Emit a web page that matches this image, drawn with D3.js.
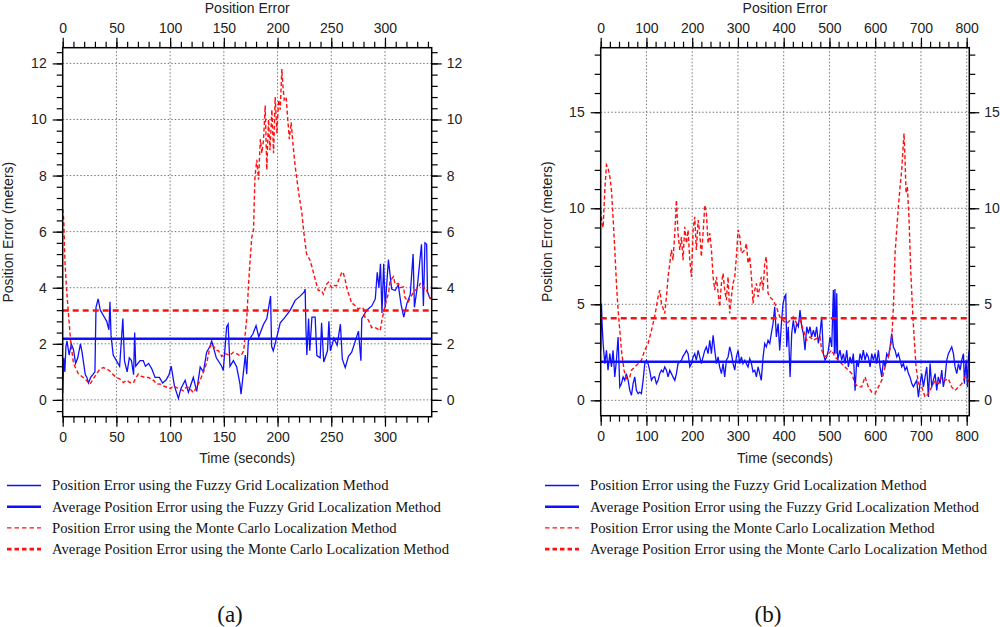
<!DOCTYPE html>
<html>
<head>
<meta charset="utf-8">
<script src="https://cdn.jsdelivr.net/npm/d3@7"></script>
<style>
  body { margin: 0; background: white; }
  svg { display: block; }
</style>
</head>
<body>
<div id="chart"></div>
<script>
// ---- panel (a) ----
const fgTimeA = [0,1,2,3,4,6,8,10,12,14,16.5,18,21,22.5,24,26,28,30,31,33,35,38,41,43,44,45,47,50,53,56,57.5,60,62,64,66,67,68,72,75,77,80,83,86,90,93,96,99,101,104,107.7,110,114,117,121.6,124.7,128,131,134,137,138.7,143,148,149.5,152.6,154,155.7,158.9,162,165,166,168,170,171.3,172.8,177,180,182.5,187,190,193.5,194.5,196,199.4,202.5,207,211.8,216.4,221,224.8,225.7,226.4,227.3,228.9,230,232,235,236.6,239.7,241,243,246.5,247.8,249.2,252.5,255.5,258.5,260.3,263,266,269,272,275.3,277.6,278.4,283,287.7,291,292.8,294.4,295.8,297.2,298.8,300.2,303.2,306.2,309.4,312.4,315,317.5,320.5,323.5,326.2,327.4,330,334,335.8,337.2,338.8,339.6,342,343.5]
const fgErrA = [0.25,1.5,1.0,1.9,2.1,1.6,2.0,1.8,1.3,1.5,2.0,1.7,0.9,0.8,0.6,0.8,0.9,1.0,3.3,3.6,3.2,3.0,2.8,2.5,3.5,2.3,1.6,1.4,1.2,2.9,1.4,1.0,1.5,1.4,0.9,2.4,1.2,1.4,1.4,1.2,1.3,1.1,0.8,0.8,0.6,0.7,0.9,1.2,0.5,0.05,0.4,0.7,0.27,0.8,0.3,1.17,1.0,1.7,1.9,2.1,1.5,1.2,1.05,2.6,2.7,1.2,1.4,1.17,0.57,0.2,0.9,1.6,0.92,2.1,2.35,2.65,2.25,2.7,2.9,3.7,1.9,1.75,2.25,2.75,2.95,3.2,3.55,3.7,3.85,3.95,2.6,1.6,2.9,1.75,2.95,2.95,1.58,1.5,2.75,1.35,1.75,2.8,1.75,2.2,1.95,2.7,1.45,1.15,1.55,1.7,2.05,2.45,1.4,2.9,3.2,3.35,3.6,4.55,4.0,4.85,3.1,4.85,3.3,5.0,3.95,3.9,4.1,3.4,2.95,3.45,3.75,5.2,3.3,4.0,5.55,3.35,5.6,5.55,3.85,3.62,3.6]
const mcTimeA = [0,1,2,3.5,5.3,7.4,10,14.6,19,22,25.4,28.5,31,34.7,37.9,41,44,47,50,53,56.5,59.6,62.5,65.8,68,70.4,73,76.6,80,82.8,85,87.5,90.6,93.7,97,100,103,106,109,112.3,115,117,119.5,121.6,124.5,127.8,130,132.5,134.5,137,138.7,140,143,145,148,150,152.6,155.7,158.9,162,165,167,168.5,170,171.5,172.8,174.5,176,177.6,179,180.7,182.3,184,185.4,187,188.5,190,191.6,193,194.7,196.3,197.8,199.4,201,202.5,204,205,206.2,208,209.3,211,212.7,214.3,216.5,219.6,222.7,224.2,227,230,232,235,238,241,242.6,245.7,247.5,250.4,252,255,256.8,258,260,261,263,264,266,267.5,269,270.5,273.8,275.2,278.3,280,281.4,284.5,287.6,289.4,292.3,295.5,297,298.6,301.6,303.3,304.7,308,309.3,312.6,314,317.3,318.6,321.7,326.5,331,332.8,335.7,337.4,338.8,342,343.5]
const mcErrA = [6.8,6.4,5.0,4.0,3.1,2.1,1.3,0.93,0.8,0.7,0.56,0.75,0.9,1.1,1.15,1.1,1.03,0.9,0.8,0.75,0.62,0.7,0.62,0.6,0.78,0.92,0.85,0.8,0.8,0.74,0.68,0.56,0.57,0.5,0.45,0.4,0.5,0.44,0.4,0.32,0.45,0.44,0.35,0.26,0.45,0.68,0.9,1.15,1.4,1.87,2.0,1.93,1.77,1.75,1.55,1.65,1.63,1.59,1.7,1.65,1.57,1.65,1.75,2.4,3.0,4.0,5.0,5.8,6.05,7.96,8.56,7.85,9.3,8.8,9.3,10.5,8.2,10.0,8.9,10.35,8.8,10.8,9.5,10.7,10.35,11.8,11.2,10.7,10.8,10.1,9.3,9.9,9.15,8.3,7.4,6.65,6.05,5.2,5.0,4.75,4.3,3.9,3.9,3.77,4.13,4.2,4.0,4.08,4.07,4.27,4.37,4.56,4.55,4.27,4.07,3.79,3.65,3.43,3.42,3.3,3.24,3.3,3.25,2.94,2.85,2.58,2.6,2.55,2.47,2.8,3.1,3.6,3.79,4.25,4.4,4.13,4.15,4.0,4.03,3.65,3.5,3.85,4.0,4.15,4.07,3.9,3.9,3.62,3.65]
const fgAvgA = 2.18
const mcAvgA = 3.19

// ---- panel (b) ----
const fgTimeB = [0,1.7,3,5.3,9,12.6,16,20,23.5,27,30.8,34.4,38,41.7,45.4,49,52.6,56,60,63.6,67.2,70.8,74.5,78,81.8,85.4,89,92.7,96.3,100,103.6,107,110.9,114.5,118,121.8,125.5,129,132.8,136.4,140,143.7,147.3,151,154.5,158,162,165.5,169,172.8,176.5,180,183.7,187.4,191,194.7,198.3,202,205.6,209,213,216.5,220,223.8,227.5,231,234.7,238.4,242,245.7,249.3,253,256.6,260,263.9,267.5,271,274.8,278.4,282,285.7,289.4,293,296.6,300.3,304,307.6,311,315,318.5,322,325.8,329.5,333,336.7,340.3,344,347.6,351,355,358.5,362,365.8,369.5,373,376.7,380.4,384,387.8,391.3,395,398.6,402,404.5,406.6,410,414,417.5,421,424.8,428.4,432,435.7,439.4,443,446.6,450.3,454,457.6,461,465,468.5,472,475.8,479.4,483,486.7,490.4,494,497.7,501.3,505,508.6,510.8,512,514.4,516,518,523,526.8,530.5,534,537.8,541.4,545,548.7,552.3,556,559.6,563,567,570.5,574,577.8,581.5,585,588.8,592.4,596,599.7,603.3,607,610.6,614.3,618,621.6,625.2,628.9,632.5,636,639.8,643.4,647,650.7,654.4,658,661.7,665.3,669,672.6,676,680,683.5,687,690.8,694.5,698,701.7,705.4,709,712.7,716.3,720,723.6,727,731,734.5,738,741.8,745.5,749,752.8,756.4,760,763.7,767.3,771,774.6,778.3,782,785.6,789.2,793,795,798.7,801.6,803.8,805.7]
const fgErrB = [2.6,5.04,4.0,2.96,1.91,2.6,1.57,2.43,1.74,2.6,1.22,2.09,3.3,0.7,0.87,1.22,1.04,1.39,1.04,0.52,0.26,0.87,1.22,0.52,0.35,0.43,0.35,1.04,1.91,2.09,1.91,1.57,1.04,1.2,1.22,0.87,1.04,1.39,1.57,1.48,1.74,1.57,1.22,1.57,1.4,1.22,1.04,1.39,1.91,2.0,2.09,2.3,2.43,2.6,2.43,1.74,1.91,2.26,2.43,2.09,2.6,2.26,1.91,2.26,2.6,2.78,2.43,3.13,2.43,3.39,2.6,1.91,2.26,1.74,1.39,1.91,1.22,2.09,2.26,2.78,2.43,1.91,1.57,2.26,2.6,1.91,2.26,1.91,2.09,1.91,1.74,2.17,1.91,1.48,1.57,1.22,1.74,1.39,1.04,2.26,2.96,2.78,3.13,2.96,3.48,4.0,4.87,3.3,4.0,2.6,4.0,5.04,5.39,5.5,2.78,3.83,1.22,3.48,4.17,3.48,4.0,3.83,4.7,3.83,3.48,2.61,3.83,3.48,3.83,3.3,3.65,3.3,3.83,2.96,3.48,4.35,2.43,2.09,2.26,2.61,3.3,2.78,5.74,2.43,5.8,2.43,5.57,2.09,2.61,2.09,2.43,1.91,2.61,1.74,2.26,1.91,2.43,0.5,2.09,1.74,2.43,2.09,2.61,2.09,2.43,2.26,1.74,2.43,2.09,2.43,1.91,2.61,1.74,1.22,2.09,1.74,2.43,2.26,2.78,3.48,2.78,2.61,2.26,2.43,2.09,1.74,1.91,1.57,1.74,1.39,1.22,0.87,0.7,0.87,1.04,0.17,0.87,1.39,0.7,1.22,1.74,0.17,1.91,0.7,1.04,1.39,0.52,1.22,0.87,1.57,0.7,1.22,2.09,2.43,2.61,2.78,2.43,1.74,1.39,1.91,1.57,2.09,2.43,0.87,2.09,0.7,2.26,2.61]
const mcTimeB = [0,3,5.3,9,12.6,16,20,23.5,27,30.8,34.4,38,41.7,45.4,51,56,63.6,67.2,74.5,81.8,89,96,103.6,111,118,125.5,129,132.8,140,143.7,147.3,151,154.6,158,162,165.5,169,172.8,176.5,180,183.7,187.4,191,194.7,198.3,202,205.6,209,213,216.5,220,223.8,227.5,231,234.7,238.4,242,245.7,249.3,253,256.6,260,263.9,267.5,271,274.8,278.4,282,285.7,289.4,293,296.6,300.3,304,307.6,315,318.5,322,325.8,329.5,333,336.7,340.3,344,347.6,351,355,358.5,362,365.8,369.5,376.7,384,391.3,398.6,406.6,414,421,428.4,435.7,443,450.3,457.6,465,472,479.4,483,490.4,497.7,505,512,519.5,526.8,534,541.4,548.7,556,563,570.5,577.8,585,592.4,599.7,607,614.3,621.6,628.9,636,639.8,643.4,647,650.7,654.4,658,660.2,663,665.3,667.5,670.4,674,677.7,681.3,685,689.4,694.5,701.7,709,716.3,723.6,731,738,745.5,752.8,760,767,774.6,782,789.2,796.5,803.8,805.7]
const mcErrB = [9.9,9.2,9.0,10.95,12.26,12.1,11.65,10.95,9.56,7.83,6.09,4.7,3.65,2.6,1.57,1.13,1.22,1.57,1.74,1.91,2.09,2.6,2.96,3.65,4.35,5.39,5.74,5.04,4.52,5.39,6.43,7.13,7.83,7.3,8.7,10.43,8.7,7.83,8.5,7.3,9.04,8.17,8.87,7.3,6.43,8.87,9.56,7.83,9.39,8.7,7.48,8.7,10.17,9.74,8.17,8.7,7.83,6.43,5.74,6.43,5.57,4.87,6.09,6.61,5.74,5.22,6.43,4.52,5.39,6.09,6.43,7.48,8.87,8.52,7.65,7.83,8.17,7.13,7.48,6.43,5.04,5.74,6.09,5.39,5.91,6.43,5.74,7.13,7.48,5.57,5.39,5.22,4.87,4.35,4.17,4.0,4.17,4.35,4.0,4.17,3.65,3.13,3.3,3.13,3.22,3.3,2.61,2.26,2.43,2.61,2.26,2.09,1.91,1.74,1.57,1.39,0.87,0.7,0.7,1.22,0.7,0.43,0.35,0.7,1.04,1.74,2.26,3.13,4.87,7.65,8.87,10.09,11.13,12.0,12.87,13.9,12.5,10.78,11.13,9.39,6.78,4.87,3.3,1.74,0.87,0.7,0.17,0.35,0.7,1.04,0.87,1.22,1.04,1.13,0.7,0.52,0.7,0.87,1.22,1.04,0.9]
const fgAvgB = 2.01
const mcAvgB = 4.27

// ticks
const xMajorA = [0, 50, 100, 150, 200, 250, 300]
const yMajorA = [0, 2, 4, 6, 8, 10, 12]
const xMajorB = [0, 100, 200, 300, 400, 500, 600, 700, 800]
const yMajorB = [0, 5, 10, 15]

const legendLabels = [
  "Position Error using the Fuzzy Grid Localization Method",
  "Average Position Error using the Fuzzy Grid Localization Method",
  "Position Error using the Monte Carlo Localization Method",
  "Average Position Error using the Monte Carlo Localization Method"
]

const blue = "#1010ff", red = "#ff1010"

const svg = d3.select("#chart")
  .append("svg")
    .attr("width", 1000)
    .attr("height", 627)
    .attr("style", "background-color: white;")

function drawPanel(p) {
  const x = d3.scaleLinear().domain(p.xDomain).range([p.left, p.right])
  const y = d3.scaleLinear().domain(p.yDomain).range([p.bottom, p.top])
  const g = svg.append("g")

  // grid
  g.append("g").selectAll("line")
    .data(p.xMajor.filter(d => d > 0))
    .join("line")
      .attr("x1", d => x(d)).attr("x2", d => x(d))
      .attr("y1", p.top).attr("y2", p.bottom)
      .attr("stroke", "#777").attr("stroke-width", 1).attr("stroke-dasharray", "1.5,2")
  g.append("g").selectAll("line")
    .data(p.yMajor)
    .join("line")
      .attr("x1", p.left).attr("x2", p.right)
      .attr("y1", d => y(d)).attr("y2", d => y(d))
      .attr("stroke", "#777").attr("stroke-width", 1).attr("stroke-dasharray", "1.5,2")

  // data lines
  const line = d3.line().x(d => x(d[0])).y(d => y(d[1]))
  g.append("path")
    .datum(d3.zip(p.fgTime, p.fgErr))
    .attr("d", line)
    .attr("fill", "none").attr("stroke", blue).attr("stroke-width", 1.3)
  g.append("path")
    .datum(d3.zip(p.mcTime, p.mcErr))
    .attr("d", line)
    .attr("fill", "none").attr("stroke", red).attr("stroke-width", 1.4)
    .attr("stroke-dasharray", "4,2.5")
  g.append("path")
    .datum(p.xDomain.map(t => [t, p.fgAvg]))
    .attr("d", line)
    .attr("fill", "none").attr("stroke", blue).attr("stroke-width", 2.6)
  g.append("path")
    .datum(p.xDomain.map(t => [t, p.mcAvg]))
    .attr("d", line)
    .attr("fill", "none").attr("stroke", red).attr("stroke-width", 2.6)
    .attr("stroke-dasharray", "6,4")

  // axes: major + minor ticks pointing out
  const font = g => g.attr("font-family", "'Liberation Sans', Arial, sans-serif").attr("font-size", 14)
  const xMinor = d3.range(p.xDomain[0], p.xDomain[1] + 0.01, p.xMinorStep)
  const yMinor = d3.range(Math.ceil(p.yDomain[0] / p.yMinorStep) * p.yMinorStep, p.yDomain[1], p.yMinorStep)
  const axes = [
    [d3.axisBottom, x, xMinor, p.xMajor, `translate(0,${p.bottom})`, 5.5],
    [d3.axisTop, x, xMinor, p.xMajor, `translate(0,${p.top})`, 4.5],
    [d3.axisLeft, y, yMinor, p.yMajor, `translate(${p.left},0)`, 6],
    [d3.axisRight, y, yMinor, p.yMajor, `translate(${p.right},0)`, 5]
  ]
  axes.forEach(([axis, sc, minor, major, tr, pad]) => {
    g.append("g").attr("transform", tr)
      .call(axis(sc).tickValues(minor).tickSize(6).tickSizeOuter(0).tickFormat(""))
      .call(a => a.select(".domain").remove())
      .selectAll("line").attr("stroke-width", 1.2)
    g.append("g").attr("transform", tr)
      .call(axis(sc).tickValues(major).tickSize(10).tickSizeOuter(0).tickPadding(pad))
      .call(font)
      .call(a => a.select(".domain").remove())
      .call(a => a.selectAll("text").attr("fill", "#222"))
      .selectAll("line").attr("stroke-width", 1.2)
  })

  // frame
  g.append("rect")
    .attr("x", p.left).attr("y", p.top)
    .attr("width", p.right - p.left).attr("height", p.bottom - p.top)
    .attr("fill", "none").attr("stroke", "black").attr("stroke-width", 1.5)

  // titles
  const cx = (p.left + p.right) / 2
  g.append("text").attr("x", cx).attr("y", 12.5).attr("text-anchor", "middle")
    .call(font).attr("fill", "#222").text("Position Error")
  g.append("text").attr("x", cx).attr("y", 463).attr("text-anchor", "middle")
    .call(font).attr("fill", "#222").text("Time (seconds)")
  g.append("text")
    .attr("transform", `translate(${p.yLabelX},${(p.top + p.bottom) / 2}) rotate(-90)`)
    .attr("text-anchor", "middle")
    .call(font).attr("fill", "#222").text("Position Error (meters)")

  // legend
  const styles = [
    {w: 1.3, dash: null, c: blue},
    {w: 2.6, dash: null, c: blue},
    {w: 1.3, dash: "4.5,3", c: red},
    {w: 2.6, dash: "4.5,3", c: red}
  ]
  const leg = g.append("g")
  legendLabels.forEach((label, i) => {
    const ly = 485.5 + i * 21.2
    leg.append("line")
      .attr("x1", p.legendX).attr("x2", p.legendX + 34)
      .attr("y1", ly).attr("y2", ly)
      .attr("stroke", styles[i].c).attr("stroke-width", styles[i].w)
      .attr("stroke-dasharray", styles[i].dash)
    leg.append("text")
      .attr("x", p.legendX + 45).attr("y", ly + 4.8)
      .attr("font-family", "'Liberation Serif', 'Times New Roman', serif").attr("font-size", 14.7)
      .attr("fill", "#111")
      .text(label)
  })

  g.append("text").attr("x", p.tagX).attr("y", 622).attr("text-anchor", "middle")
    .attr("font-family", "'Liberation Serif', 'Times New Roman', serif").attr("font-size", 23)
    .attr("fill", "#111")
    .text(p.tag)
}

drawPanel({
  left: 62.7, right: 431.7, top: 47.7, bottom: 416.7,
  xDomain: [0, 343.5], yDomain: [-0.6, 12.56],
  xMajor: xMajorA, yMajor: yMajorA, xMinorStep: 10, yMinorStep: 0.4,
  fgTime: fgTimeA, fgErr: fgErrA, mcTime: mcTimeA, mcErr: mcErrA,
  fgAvg: fgAvgA, mcAvg: mcAvgA,
  yLabelX: 12.5, legendX: 7, tagX: 230, tag: "(a)"
})

drawPanel({
  left: 600.7, right: 969.3, top: 47.7, bottom: 415.7,
  xDomain: [0, 805.7], yDomain: [-0.8, 18.36],
  xMajor: xMajorB, yMajor: yMajorB, xMinorStep: 20, yMinorStep: 1,
  fgTime: fgTimeB, fgErr: fgErrB, mcTime: mcTimeB, mcErr: mcErrB,
  fgAvg: fgAvgB, mcAvg: mcAvgB,
  yLabelX: 551.5, legendX: 545, tagX: 768, tag: "(b)"
})
</script>
</body>
</html>
